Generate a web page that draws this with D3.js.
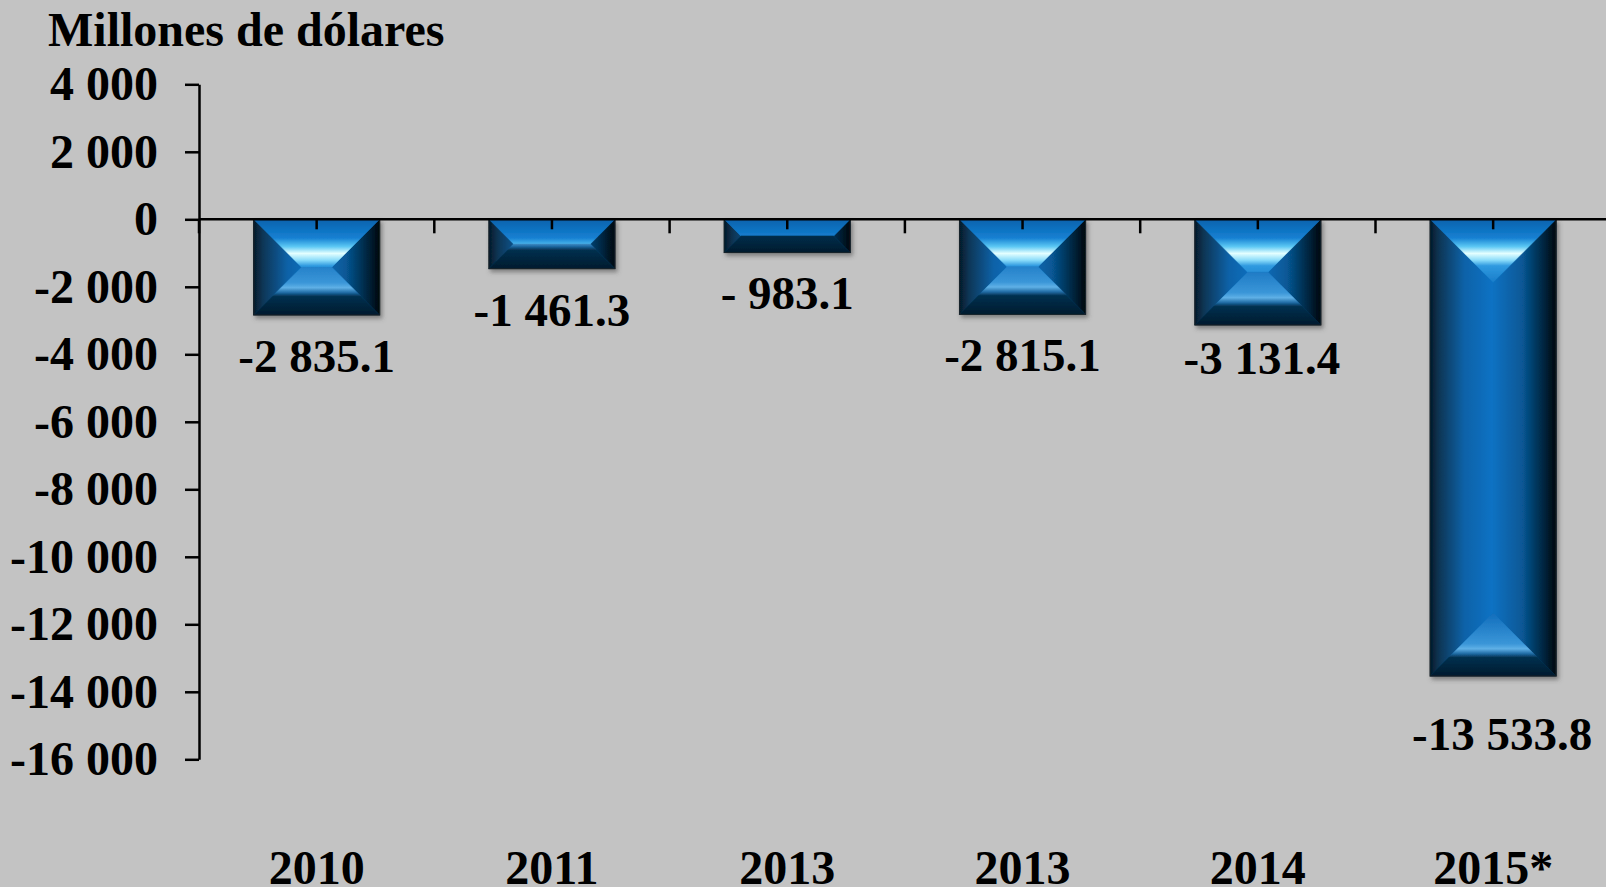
<!DOCTYPE html>
<html>
<head>
<meta charset="utf-8">
<script src="https://cdn.jsdelivr.net/npm/d3@7"></script>
<style>
  body { margin: 0; background: #c3c3c3; overflow: hidden; }
  svg { display: block; }
  text { font-family: "Liberation Serif", "Times New Roman", serif; font-weight: bold; fill: #000; }
</style>
</head>
<body>
<div id="chart"></div>
<script>
// Data
var years = ["2010", "2011", "2013", "2013", "2014", "2015*"];
var balance = [-2835.1, -1461.3, -983.1, -2815.1, -3131.4, -13533.8];
var yTicks = [4000, 2000, 0, -2000, -4000, -6000, -8000, -10000, -12000, -14000, -16000];
var yTitle = "Millones de dólares";

// Set up the chart
var svgWidth = 1606;
var svgHeight = 887;

var svg = d3.select("#chart")
  .append("svg")
  .attr("width", svgWidth)
  .attr("height", svgHeight);

svg.append("rect")
  .attr("width", svgWidth)
  .attr("height", svgHeight)
  .attr("fill", "#c3c3c3");

var defs = svg.append("defs");

// soft grey shadow under the bars
var shadow = defs.append("filter")
  .attr("id", "barShadow")
  .attr("x", "-10%").attr("y", "-10%")
  .attr("width", "130%").attr("height", "130%");
shadow.append("feDropShadow")
  .attr("dx", 2)
  .attr("dy", 3)
  .attr("stdDeviation", 2)
  .attr("flood-color", "#4a4a4a")
  .attr("flood-opacity", 0.55);

// Scales
var x = d3.scaleBand()
  .domain(d3.range(years.length))
  .range([199, 1610.8])
  .paddingInner(0.4645)
  .paddingOuter(0.23225);

var y = d3.scaleLinear()
  .domain([-16000, 4000])
  .range([759.3, 84.3]);

// number format with a space as thousands separator
var locale = d3.formatLocale({
  decimal: ".",
  thousands: " ",
  grouping: [3],
  currency: ["", ""],
  minus: "-"
});
var tickFormat = locale.format(",d");
var valueFormat = function(v) {
  var s = locale.format(",.1f")(v);
  if (Math.abs(v) < 1000) s = s.replace("-", "- ");
  return s;
};

// Title
svg.append("text")
  .attr("x", 48)
  .attr("y", 46)
  .attr("font-size", 48)
  .text(yTitle);

// Y axis
var leftAxis = d3.axisLeft(y)
  .tickValues(yTicks)
  .tickFormat(tickFormat)
  .tickSize(14)
  .tickSizeOuter(0)
  .tickPadding(27);

var yAxis = svg.append("g")
  .attr("transform", "translate(199, 0)")
  .call(leftAxis);

yAxis.selectAll("path, line")
  .attr("stroke", "#000")
  .attr("stroke-width", 2.5);
yAxis.selectAll("text")
  .attr("font-family", null)
  .attr("font-size", 48)
  .attr("fill", "#000");

// gradient helper
function addGradient(id, x1, y1, x2, y2, stops) {
  var g = defs.append("linearGradient")
    .attr("id", id)
    .attr("gradientUnits", "userSpaceOnUse")
    .attr("x1", x1).attr("y1", y1)
    .attr("x2", x2).attr("y2", y2);
  stops.forEach(function(s) {
    g.append("stop").attr("offset", s[0]).attr("stop-color", s[1]);
  });
}

var bevel = 62;
var topStops = [[0, "#0762ad"], [0.3, "#1580d2"], [0.44, "#5cc8f4"], [0.55, "#e4ffff"], [0.66, "#8adcfa"], [0.75, "#2f9ae0"], [1, "#1b7fcb"]];
var bottomStops = [[0, "#021b2e"], [0.3, "#03304f"], [0.36, "#1f6aa3"], [0.44, "#5fb0e6"], [0.52, "#3a96d8"], [1, "#136fbd"]];
var leftStops = [[0, "#051a2a"], [0.15, "#0a3656"], [0.55, "#0a62a8"], [1, "#0a72c4"]];
var rightStops = [[0, "#00060c"], [0.15, "#021e33"], [0.55, "#075896"], [1, "#0a70c0"]];

// Bars with bevel faces
var barsGroup = svg.append("g")
  .attr("filter", "url(#barShadow)");

balance.forEach(function(v, i) {
  var x0 = x(i);
  var x1 = x0 + x.bandwidth();
  var y0 = y(0);
  var y1 = y(v);
  var w = x1 - x0;
  var h = y1 - y0;
  var b = Math.min(w, h) / 2;

  addGradient("top" + i, 0, y0, 0, y0 + bevel, topStops);
  addGradient("bot" + i, 0, y1, 0, y1 - bevel, bottomStops);
  addGradient("lft" + i, x0, 0, x0 + bevel, 0, leftStops);
  addGradient("rgt" + i, x1, 0, x1 - bevel, 0, rightStops);

  var bar = barsGroup.append("g");

  bar.append("rect")
    .attr("x", x0)
    .attr("y", y0)
    .attr("width", w)
    .attr("height", h)
    .attr("fill", "#0a6cb8");

  var faces = [
    ["lft" + i, [[x0, y0], [x0 + b, y0 + b], [x0 + b, y1 - b], [x0, y1]]],
    ["rgt" + i, [[x1, y0], [x1 - b, y0 + b], [x1 - b, y1 - b], [x1, y1]]],
    ["top" + i, [[x0, y0], [x1, y0], [x1 - b, y0 + b], [x0 + b, y0 + b]]],
    ["bot" + i, [[x0, y1], [x1, y1], [x1 - b, y1 - b], [x0 + b, y1 - b]]]
  ];

  faces.forEach(function(f) {
    bar.append("polygon")
      .attr("points", f[1].map(function(p) { return p.join(","); }).join(" "))
      .attr("fill", "url(#" + f[0] + ")")
      .attr("stroke", "url(#" + f[0] + ")")
      .attr("stroke-width", 0.5);
  });

  bar.append("rect")
    .attr("x", x0)
    .attr("y", y0)
    .attr("width", w)
    .attr("height", h)
    .attr("fill", "none")
    .attr("stroke", "#14222a")
    .attr("stroke-width", 1.2);
});

// X axis line with ticks at the centres and at the category boundaries
var xAxisGroup = svg.append("g");

xAxisGroup.append("line")
  .attr("x1", 199)
  .attr("x2", svgWidth)
  .attr("y1", y(0))
  .attr("y2", y(0))
  .attr("stroke", "#000")
  .attr("stroke-width", 2.5);

xAxisGroup.selectAll(".centerTick")
  .data(d3.range(years.length))
  .enter()
  .append("line")
  .attr("x1", d => x(d) + x.bandwidth() / 2)
  .attr("x2", d => x(d) + x.bandwidth() / 2)
  .attr("y1", y(0))
  .attr("y2", y(0) + 10)
  .attr("stroke", "#000")
  .attr("stroke-width", 2.5);

xAxisGroup.selectAll(".edgeTick")
  .data(d3.range(years.length + 1))
  .enter()
  .append("line")
  .attr("x1", d => x.range()[0] + d * x.step())
  .attr("x2", d => x.range()[0] + d * x.step())
  .attr("y1", y(0))
  .attr("y2", y(0) + 14)
  .attr("stroke", "#000")
  .attr("stroke-width", 2.5);

// Category labels along the bottom
svg.selectAll(".yearLabel")
  .data(years)
  .enter()
  .append("text")
  .attr("x", (d, i) => x(i) + x.bandwidth() / 2)
  .attr("y", 884)
  .attr("text-anchor", "middle")
  .attr("font-size", 48)
  .text(d => d);

// Value labels under each bar; a couple were nudged by hand in the original
function labelDx(i) { return i === 5 ? 9 : (i === 4 ? 4 : 0); }
function labelDy(i) { return i === 5 ? 74 : (i === 4 ? 49 : 57); }

svg.selectAll(".valueLabel")
  .data(balance)
  .enter()
  .append("text")
  .attr("x", (d, i) => x(i) + x.bandwidth() / 2 + labelDx(i))
  .attr("y", (d, i) => y(d) + labelDy(i))
  .attr("text-anchor", "middle")
  .attr("font-size", 47)
  .text(d => valueFormat(d));
</script>
</body>
</html>
